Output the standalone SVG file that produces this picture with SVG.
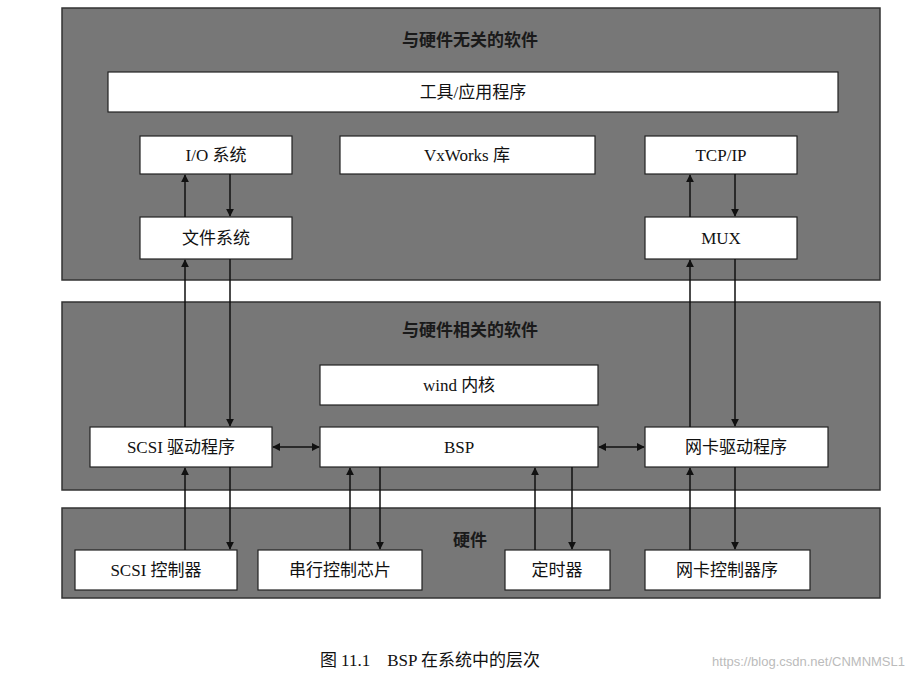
<svg xmlns="http://www.w3.org/2000/svg" width="911" height="684" viewBox="0 0 911 684">
<style>
.panel{fill:#777;stroke:#333;stroke-width:1.5}
.box{fill:#fff;stroke:#222;stroke-width:1.2}
.t{font-family:"Liberation Serif","Noto Sans CJK SC",serif;font-size:17px;fill:#111;text-anchor:middle;dominant-baseline:central}
.pt{font-family:"Liberation Serif","Noto Sans CJK SC",serif;font-size:17px;font-weight:bold;fill:#1a1a1a;text-anchor:middle;dominant-baseline:central}
.c line{stroke:#111;stroke-width:1.5}
</style>
<defs>
<marker id="a" viewBox="0 0 10 10" refX="9" refY="5" markerWidth="8" markerHeight="8" orient="auto-start-reverse" markerUnits="userSpaceOnUse"><path d="M0,0L10,5L0,10z" fill="#111"/></marker>
</defs>
<rect width="911" height="684" fill="#fff"/>
<g id="panel-top"><rect class="panel" x="62" y="8" width="818" height="272"/><text class="pt" x="470" y="40">与硬件无关的软件</text></g>
<g id="panel-mid"><rect class="panel" x="62" y="302" width="818" height="188"/><text class="pt" x="470" y="330">与硬件相关的软件</text></g>
<g id="panel-hw"><rect class="panel" x="62" y="508" width="818" height="90"/><text class="pt" x="470" y="540">硬件</text></g>
<g id="app"><rect class="box" x="108" y="72" width="730" height="40"/><text class="t" x="473" y="92">工具/应用程序</text></g>
<g id="io"><rect class="box" x="140" y="136" width="152" height="38"/><text class="t" x="216" y="155">I/O 系统</text></g>
<g id="vxw"><rect class="box" x="340" y="136" width="255" height="38"/><text class="t" x="467" y="155">VxWorks 库</text></g>
<g id="tcp"><rect class="box" x="645" y="136" width="152" height="38"/><text class="t" x="721" y="155">TCP/IP</text></g>
<g id="fs"><rect class="box" x="140" y="217" width="152" height="42"/><text class="t" x="216" y="238">文件系统</text></g>
<g id="mux"><rect class="box" x="645" y="217" width="152" height="42"/><text class="t" x="721" y="238">MUX</text></g>
<g id="wind"><rect class="box" x="320" y="365" width="278" height="40"/><text class="t" x="459" y="385">wind 内核</text></g>
<g id="scsidrv"><rect class="box" x="90" y="427" width="182" height="40"/><text class="t" x="181" y="447">SCSI 驱动程序</text></g>
<g id="bsp"><rect class="box" x="320" y="427" width="278" height="40"/><text class="t" x="459" y="447">BSP</text></g>
<g id="nicdrv"><rect class="box" x="645" y="427" width="183" height="40"/><text class="t" x="736" y="447">网卡驱动程序</text></g>
<g id="scsictl"><rect class="box" x="75" y="550" width="162" height="40"/><text class="t" x="156" y="570">SCSI 控制器</text></g>
<g id="serial"><rect class="box" x="258" y="550" width="164" height="40"/><text class="t" x="340" y="570">串行控制芯片</text></g>
<g id="timer"><rect class="box" x="505" y="550" width="105" height="40"/><text class="t" x="557" y="570">定时器</text></g>
<g id="nicctl"><rect class="box" x="645" y="550" width="165" height="40"/><text class="t" x="727" y="570">网卡控制器序</text></g>
<g class="c" id="connectors">
<line x1="185" y1="217" x2="185" y2="175" marker-end="url(#a)"/>
<line x1="230" y1="174" x2="230" y2="216" marker-end="url(#a)"/>
<line x1="185" y1="427" x2="185" y2="260" marker-end="url(#a)"/>
<line x1="230" y1="259" x2="230" y2="426" marker-end="url(#a)"/>
<line x1="185" y1="550" x2="185" y2="468" marker-end="url(#a)"/>
<line x1="230" y1="467" x2="230" y2="549" marker-end="url(#a)"/>
<line x1="350" y1="550" x2="350" y2="468" marker-end="url(#a)"/>
<line x1="380" y1="467" x2="380" y2="549" marker-end="url(#a)"/>
<line x1="535" y1="550" x2="535" y2="468" marker-end="url(#a)"/>
<line x1="572" y1="467" x2="572" y2="549" marker-end="url(#a)"/>
<line x1="690" y1="550" x2="690" y2="468" marker-end="url(#a)"/>
<line x1="735" y1="467" x2="735" y2="549" marker-end="url(#a)"/>
<line x1="690" y1="427" x2="690" y2="260" marker-end="url(#a)"/>
<line x1="735" y1="259" x2="735" y2="426" marker-end="url(#a)"/>
<line x1="690" y1="217" x2="690" y2="175" marker-end="url(#a)"/>
<line x1="735" y1="174" x2="735" y2="216" marker-end="url(#a)"/>
<line x1="273" y1="447" x2="319" y2="447" marker-start="url(#a)" marker-end="url(#a)"/>
<line x1="599" y1="447" x2="644" y2="447" marker-start="url(#a)" marker-end="url(#a)"/>
</g>
<text class="t" x="430" y="660" font-size="18">图 11.1　BSP 在系统中的层次</text>
<text x="905" y="666" font-family="Liberation Sans,sans-serif" font-size="13" fill="#bbb" text-anchor="end">https://blog.csdn.net/CNMNMSL1</text>
</svg>
